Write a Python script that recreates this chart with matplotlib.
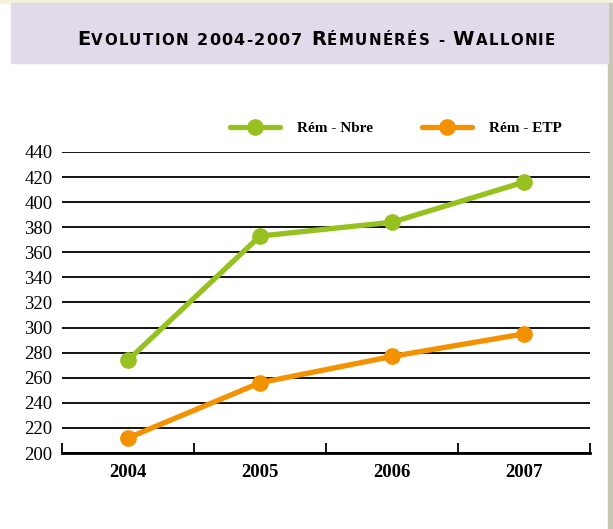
import matplotlib
matplotlib.use("Agg")
import matplotlib.pyplot as plt
from matplotlib.patches import Rectangle

# données
annees = ['2004', '2005', '2006', '2007']
rem_nbre = [274, 373, 384, 416]
rem_etp = [212, 256, 277, 295]
yticks = list(range(200, 441, 20))

vert = '#96c11f'
orange = '#f39200'

fig = plt.figure(figsize=(6.13, 5.29), dpi=100)
fig.patch.set_facecolor('white')

# fonds / cadre
fig.add_artist(Rectangle((0, 1 - 3/529), 1, 3/529, transform=fig.transFigure,
                         color='#f6f2da', zorder=0))
fig.add_artist(Rectangle((608/613, 0), 5/613, 1 - 3/529, transform=fig.transFigure,
                         color='#c9c6b3', zorder=0))
fig.add_artist(Rectangle((11/613, 1 - 63/529), 597/613, 60/529, transform=fig.transFigure,
                         color='#e2d9ea', zorder=0))

# titre en petites capitales
titre = "Evolution 2004-2007 Rémunérés - Wallonie"
renderer = fig.canvas.get_renderer()
morceaux = []
for ch in titre:
    taille = 14 if ch.isupper() else (11.5 if ch.isdigit() else 10.8)
    t = fig.text(0, 0, ch.upper() if ch != ' ' else '\u00a0', fontsize=taille,
                 fontweight='bold', family='DejaVu Sans', va='baseline', ha='left')
    morceaux.append(t)
espace = 1.3
largeurs = []
for t in morceaux:
    w = t.get_window_extent(renderer).width
    if t.get_text() == '\u00a0':
        w = 6
    largeurs.append(w)
total = sum(largeurs) + espace * (len(largeurs) - 1)
x = 316 - total / 2
for t, w in zip(morceaux, largeurs):
    t.set_position((x / 613, 1 - 45 / 529))
    x += w + espace

ax = fig.add_axes([62/613, 1 - 453/529, 528/613, 301/529])
x_pos = range(len(annees))
ax.plot(x_pos, rem_nbre, color=vert, lw=3.8, marker='o', markersize=11,
        label='Rém - Nbre', solid_capstyle='round', zorder=3, clip_on=False)
ax.plot(x_pos, rem_etp, color=orange, lw=3.8, marker='o', markersize=11,
        label='Rém - ETP', solid_capstyle='round', zorder=3, clip_on=False)

ax.set_xlim(-0.5, 3.5)
ax.set_ylim(200, 440)
ax.set_yticks(yticks)
ax.set_yticklabels([str(v) for v in yticks], family='Liberation Serif', fontsize=13.5)
ax.set_xticks(list(x_pos))
ax.set_xticklabels(annees, family='Liberation Serif', fontsize=13.5, fontweight='bold')
ax.set_xticks([-0.5, 0.5, 1.5, 2.5, 3.5], minor=True)
ax.tick_params(axis='y', length=0, pad=7)
ax.tick_params(axis='x', which='major', length=0, pad=8)
ax.tick_params(axis='x', which='minor', direction='in', length=7, width=1.3, color='black')
ax.grid(axis='y', color='black', lw=1.3)
ax.set_axisbelow(True)
for s in ['top', 'right', 'left']:
    ax.spines[s].set_visible(False)
ax.spines['bottom'].set_linewidth(2)
ax.patch.set_alpha(0)

fig.legend(loc='center', bbox_to_anchor=(396/613, 1 - 128/529), ncol=2, frameon=False,
           prop={'family': 'Liberation Serif', 'weight': 'bold', 'size': 11},
           handlelength=3.3, columnspacing=3.2, handletextpad=1.1)

fig.savefig('out.png', dpi=100)
plt.close()
